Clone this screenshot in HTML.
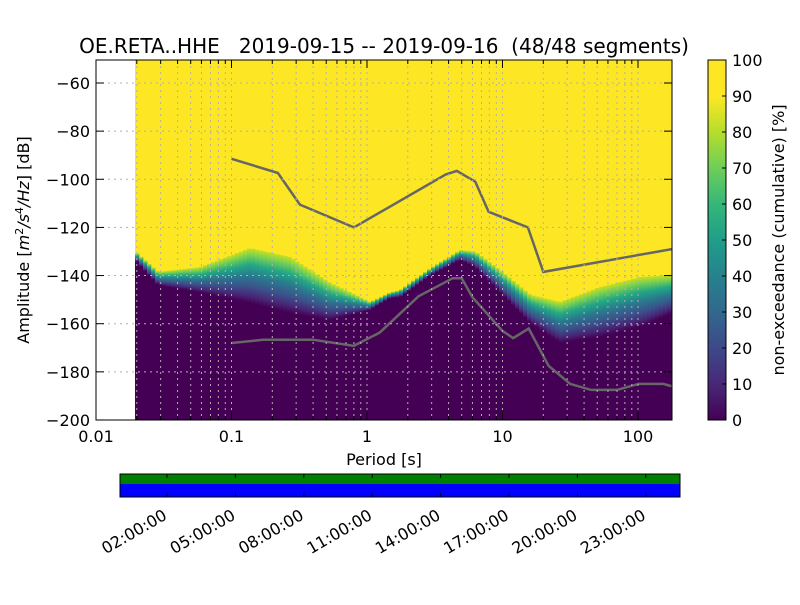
<!DOCTYPE html>
<html><head><meta charset="utf-8"><style>
body{margin:0;background:#fff;}
svg text{font-family:"DejaVu Sans","Liberation Sans",sans-serif;white-space:pre;}
</style></head><body>
<svg id="c" width="800" height="600" viewBox="0 0 800 600">
<defs>
<linearGradient id="band" x1="0" y1="0" x2="0" y2="1">
<stop offset="0" stop-color="#c8e020"/><stop offset="0.12" stop-color="#7ad151"/><stop offset="0.3" stop-color="#22a884"/><stop offset="0.5" stop-color="#2a788e"/><stop offset="0.7" stop-color="#3b528b"/><stop offset="0.88" stop-color="#482475"/><stop offset="1" stop-color="#440154"/>
</linearGradient>
<linearGradient id="cbar" x1="0" y1="1" x2="0" y2="0">
<stop offset="0" stop-color="#440154"/><stop offset="0.1" stop-color="#482878"/><stop offset="0.2" stop-color="#3e4989"/><stop offset="0.3" stop-color="#31688e"/><stop offset="0.4" stop-color="#26828e"/><stop offset="0.5" stop-color="#1f9e89"/><stop offset="0.6" stop-color="#35b779"/><stop offset="0.7" stop-color="#6ece58"/><stop offset="0.8" stop-color="#b5de2b"/><stop offset="0.9" stop-color="#fde725"/><stop offset="1" stop-color="#fde725"/>
</linearGradient>
<clipPath id="pc"><rect x="96" y="60" width="576" height="360"/></clipPath>
</defs>
<g id="plot" clip-path="url(#pc)"></g>
<g id="axes"></g>
<text x="384" y="53" font-size="20" text-anchor="middle" xml:space="preserve">OE.RETA..HHE   2019-09-15 -- 2019-09-16  (48/48 segments)</text>
<text x="384" y="465" font-size="16" text-anchor="middle">Period [s]</text>
<text transform="translate(29,240) rotate(-90)" font-size="16" text-anchor="middle">Amplitude [<tspan font-style="italic">m</tspan><tspan font-size="11" dy="-6">2</tspan><tspan dy="6" font-style="italic">/s</tspan><tspan font-size="11" dy="-6">4</tspan><tspan dy="6" font-style="italic">/Hz</tspan>] [dB]</text>
<rect x="708" y="60" width="18" height="360" fill="url(#cbar)" stroke="#000"/>
<g id="cb"></g>
<text transform="translate(784,240) rotate(-90)" font-size="16" text-anchor="middle">non-exceedance (cumulative) [%]</text>
<rect x="120" y="474" width="560" height="10" fill="#008000"/>
<rect x="120" y="484" width="560" height="13" fill="#0000ff"/>
<rect x="120" y="474" width="560" height="23" fill="none" stroke="#000"/>
<g id="tl"></g>
</svg>
<script>
const periods=[0.0194,0.0287,0.0586,0.137,0.270,0.533,1.05,1.48,1.75,2.92,4.86,6.26,9.6,16,26.5,52.5,104,178];
const darkTop=[-133.5,-144,-147,-151.4,-155.6,-158.5,-154.3,-149.3,-149,-140,-133.5,-136.5,-147,-159.7,-168,-165.5,-161.4,-155.6];
const yellowBottom=[-130,-138.5,-136.5,-128.6,-132.3,-143,-151,-147,-146,-137,-129.4,-130,-137.8,-148,-151,-144.8,-140.6,-139.8];
const nhnmP=[0.1,0.22,0.32,0.8,3.8,4.6,6.3,7.9,15.4,20,178];
const nhnmDb=[-91.5,-97.4,-110.5,-120,-98,-96.5,-101,-113.5,-120,-138.5,-129];
const nlnmP=[0.1,0.17,0.4,0.8,1.24,2.4,4.3,5,6,10,12,15.6,21.9,31.6,45,70,101,154,178];
const nlnmDb=[-168,-166.7,-166.7,-169.2,-163.7,-148.6,-141.1,-141.1,-149,-163,-166,-162,-177.5,-185,-187.5,-187.5,-185,-185,-186];
const xTicks=[0.01,0.1,1,10,100];
const xTickLabels=["0.01","0.1","1","10","100"];
const yTicks=[-60,-80,-100,-120,-140,-160,-180,-200];
const cbTicks=[0,10,20,30,40,50,60,70,80,90,100];
const timeLabels=["02:00:00","05:00:00","08:00:00","11:00:00","14:00:00","17:00:00","20:00:00","23:00:00"];
const timeHours=[2,5,8,11,14,17,20,23];

const NS="http://www.w3.org/2000/svg";
const X=p=>96+(Math.log10(p)+2)*135.5;
const Y=d=>83+(-60-d)/20*48.14;
function mk(t,a,parent){const e=document.createElementNS(NS,t);for(const k in a)e.setAttribute(k,a[k]);parent.appendChild(e);return e;}
function interp(xs,ys,p){const l=Math.log10(p);for(let i=0;i<xs.length-1;i++){const a=Math.log10(xs[i]),b=Math.log10(xs[i+1]);if(l>=a&&l<=b){return ys[i]+(ys[i+1]-ys[i])*(l-a)/(b-a);}}return l<Math.log10(xs[0])?ys[0]:ys[ys.length-1];}
const plot=document.getElementById('plot');
const bg=mk('rect',{x:X(periods[0]),y:60,width:672-X(periods[0]),height:360,fill:'#fde725'},plot);


const x0=X(periods[0]),x1=X(periods[periods.length-1]);
for(let x=x0;x<x1;x+=4){
  const p=Math.pow(10,(x+2-96)/135.5-2);
  const dt=interp(periods,darkTop,p),yb=interp(periods,yellowBottom,p);
  const c1=mk('rect',{x:x,y:Y(dt)-0.5,width:4.5,height:420-Y(dt)+0.5,fill:'#440154'},plot);
  
  
  const c2=mk('rect',{x:x,y:Y(yb),width:4.5,height:Math.max(0,Y(dt)-Y(yb)),fill:'url(#band)'},plot);
  
  
}
const ax=document.getElementById('axes');
for(let d=-2;d<=2;d++)for(let m=1;m<10;m++){const p=m*Math.pow(10,d);const x=X(p);if(x<=96||x>=672)continue;
  const g=mk('line',{x1:x,x2:x,y1:60,y2:420,stroke:'#b0b0b0','stroke-dasharray':'2,4','stroke-width':1},ax);
  
  }
yTicks.forEach(v=>{const y=Y(v);const g=mk('line',{x1:96,x2:672,y1:y,y2:y,stroke:'#b0b0b0','stroke-dasharray':'2,4'},ax);
  
  });
function line(ps,ds,name){const pts=ps.map((p,i)=>X(p).toFixed(1)+','+Y(ds[i]).toFixed(1)).join(' ');
  const l=mk('polyline',{points:pts,fill:'none',stroke:'#666','stroke-width':2.5},plot);
  
  }
line(nhnmP,nhnmDb,'high-noise-model-line');
line(nlnmP,nlnmDb,'low-noise-model-line');
const fr=mk('rect',{x:96,y:60,width:576,height:360,fill:'none',stroke:'#000'},ax);


xTicks.forEach((p,i)=>{const x=X(p);mk('line',{x1:x,x2:x,y1:420,y2:412,stroke:'#000'},ax);mk('line',{x1:x,x2:x,y1:60,y2:68,stroke:'#000'},ax);
  const t=mk('text',{x:x,y:442,'font-size':16,'text-anchor':'middle'},ax);t.textContent=xTickLabels[i];
  
  });
for(let d=-2;d<=2;d++)for(let m=2;m<10;m++){const x=X(m*Math.pow(10,d));if(x>=672)continue;mk('line',{x1:x,x2:x,y1:420,y2:416,stroke:'#000'},ax);mk('line',{x1:x,x2:x,y1:60,y2:64,stroke:'#000'},ax);}
yTicks.forEach(v=>{const y=Y(v);mk('line',{x1:96,x2:104,y1:y,y2:y,stroke:'#000'},ax);mk('line',{x1:664,x2:672,y1:y,y2:y,stroke:'#000'},ax);
  const t=mk('text',{x:90,y:y+6,'font-size':16,'text-anchor':'end'},ax);t.textContent=String(v).replace('-','\u2212');
  
  });
const cb=document.getElementById('cb');
cbTicks.forEach(v=>{const y=420-v*3.6;mk('line',{x1:722,x2:726,y1:y,y2:y,stroke:'#000'},cb);
  const t=mk('text',{x:732,y:y+6,'font-size':16},cb);t.textContent=v;
  
  });
const tl=document.getElementById('tl');
timeHours.forEach((h,i)=>{const x=121.4+h*22.8;mk('line',{x1:x,x2:x,y1:474,y2:478,stroke:'#000'},tl);mk('line',{x1:x,x2:x,y1:493,y2:497,stroke:'#000'},tl);
  const t=mk('text',{transform:`translate(${x-5},508) rotate(-30)`,'font-size':16,'text-anchor':'end','dominant-baseline':'hanging'},tl);t.textContent=timeLabels[i];
  
  });
</script>
</body></html>
